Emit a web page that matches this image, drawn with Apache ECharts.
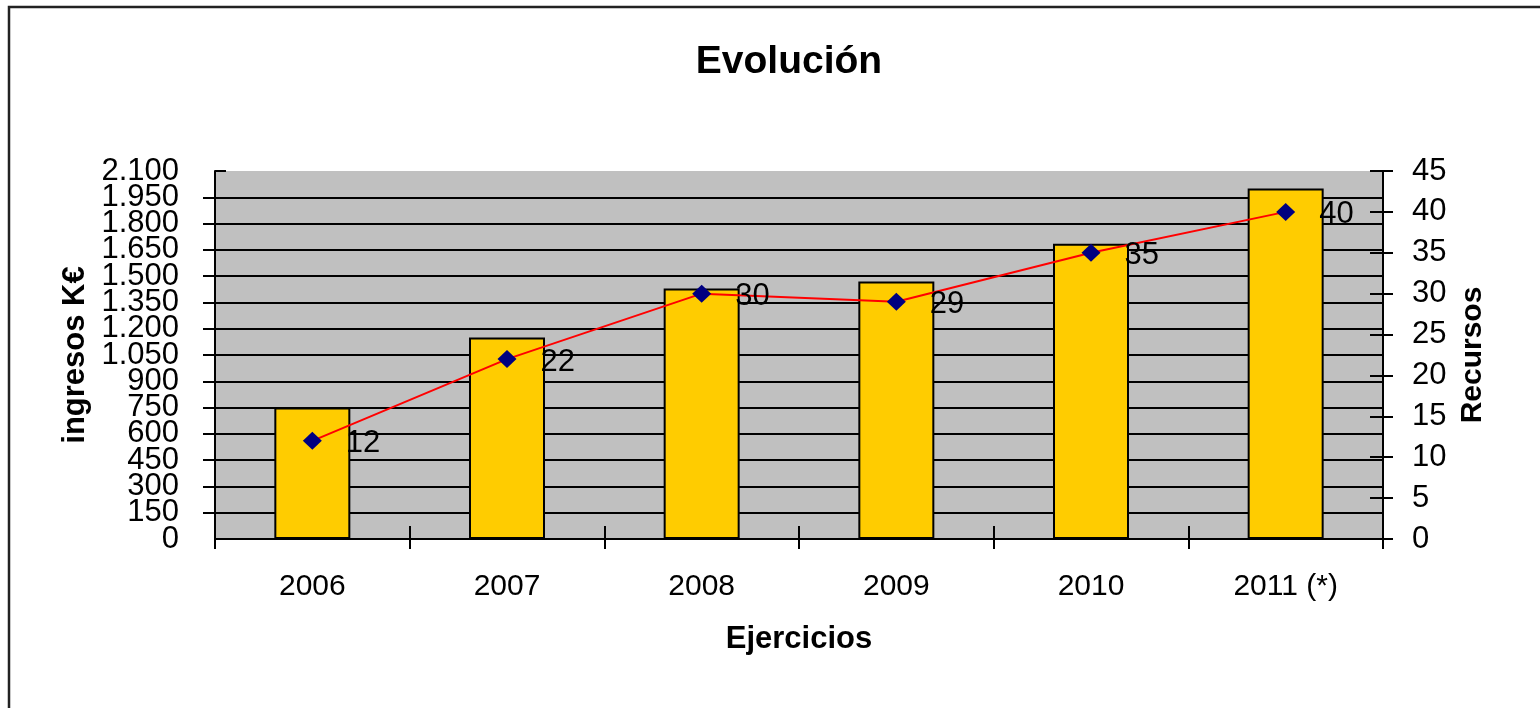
<!DOCTYPE html>
<html>
<head>
<meta charset="utf-8">
<script src="https://cdn.jsdelivr.net/npm/echarts@6/dist/echarts.min.js"></script>
<style>
html,body{margin:0;padding:0;background:#fff;}
#c{width:1540px;height:708px;}
</style>
</head>
<body>
<div id="c"></div>
<script>
const categories = ['2006', '2007', '2008', '2009', '2010', '2011 (*)'];
const ingresos = [750, 1150, 1430, 1470, 1685, 2000];
const recursos = [12, 22, 30, 29, 35, 40];
const leftTicks = {min: 0, max: 2100, interval: 150};
const rightTicks = {min: 0, max: 45, interval: 5};

const FONT = "'Liberation Sans', Arial, sans-serif";
const chart = echarts.init(document.getElementById('c'));

function fmtThousands(v) {
  return String(v).replace(/\B(?=(\d{3})+(?!\d))/g, '.');
}
function fmtEnds(v) {
  return (v === leftTicks.min || v === leftTicks.max) ? fmtThousands(v) : '';
}

const axisLineStyle = {color: '#000', width: 2};
const leftLabelStyle = {fontFamily: FONT, fontSize: 31, color: '#000', margin: 36};

chart.setOption({
  animation: false,
  backgroundColor: '#fff',
  title: {
    text: 'Evolución',
    left: 784,
    top: 38,
    textAlign: 'center',
    textStyle: {fontFamily: FONT, fontSize: 39, fontWeight: 'bold', color: '#000'}
  },
  graphic: [{
    type: 'rect',
    shape: {x: 9, y: 7, width: 1560, height: 720},
    style: {fill: 'none', stroke: '#222', lineWidth: 2.5},
    silent: true
  }],
  grid: {
    left: 215, right: 157, top: 171, bottom: 169,
    show: true, backgroundColor: '#C0C0C0', borderWidth: 0
  },
  xAxis: [{
    type: 'category',
    data: categories,
    position: 'bottom',
    name: 'Ejercicios',
    nameLocation: 'middle',
    nameGap: 85,
    nameTextStyle: {fontFamily: FONT, fontSize: 31, fontWeight: 'bold', color: '#000'},
    axisLine: {show: true, lineStyle: axisLineStyle},
    axisTick: {show: true, length: 10, lineStyle: {color: '#000', width: 2}},
    axisLabel: {fontFamily: FONT, fontSize: 30, color: '#000', margin: 33}
  }, {
    type: 'category',
    data: categories,
    position: 'bottom',
    axisLine: {show: false},
    axisTick: {show: true, inside: true, length: 13, lineStyle: {color: '#000', width: 2}},
    axisLabel: {show: false}
  }],
  yAxis: [{
    type: 'value',
    position: 'left',
    min: leftTicks.min, max: leftTicks.max, interval: leftTicks.interval,
    name: 'ingresos K€',
    nameLocation: 'middle',
    nameRotate: 90,
    nameGap: 122,
    nameTextStyle: {fontFamily: FONT, fontSize: 31, fontWeight: 'bold', color: '#000'},
    axisLine: {show: true, lineStyle: axisLineStyle},
    axisTick: {show: true, length: 12, lineStyle: {color: '#000', width: 2}},
    axisLabel: Object.assign({}, leftLabelStyle, {formatter: fmtThousands,
      showMinLabel: false, showMaxLabel: false, hideOverlap: false}),
    splitLine: {show: true, showMaxLine: false, lineStyle: {color: '#000', width: 2}}
  }, {
    type: 'value',
    position: 'right',
    min: rightTicks.min, max: rightTicks.max, interval: rightTicks.interval,
    name: 'Recursos',
    nameLocation: 'middle',
    nameRotate: 90,
    nameGap: 75,
    nameTextStyle: {fontFamily: FONT, fontSize: 30, fontWeight: 'bold', color: '#000'},
    axisLine: {show: true, lineStyle: axisLineStyle},
    axisTick: {show: true, length: 10, lineStyle: {color: '#000', width: 2}},
    axisLabel: {fontFamily: FONT, fontSize: 31, color: '#000', margin: 29,
      showMinLabel: true, showMaxLabel: true},
    splitLine: {show: false}
  }, {
    type: 'value',
    position: 'left',
    min: leftTicks.min, max: leftTicks.max, interval: leftTicks.interval,
    axisLine: {show: false},
    axisTick: {show: true, inside: true, length: 11, lineStyle: {color: '#000', width: 2}},
    axisLabel: Object.assign({}, leftLabelStyle, {formatter: fmtEnds,
      showMinLabel: true, showMaxLabel: true, hideOverlap: false}),
    splitLine: {show: false}
  }, {
    type: 'value',
    position: 'right',
    min: rightTicks.min, max: rightTicks.max, interval: rightTicks.interval,
    axisLine: {show: false},
    axisTick: {show: true, inside: true, length: 13, lineStyle: {color: '#000', width: 2}},
    axisLabel: {show: false},
    splitLine: {show: false}
  }],
  series: [{
    name: 'ingresos K€',
    type: 'bar',
    xAxisIndex: 0,
    yAxisIndex: 0,
    data: ingresos,
    barWidth: 76,
    itemStyle: {color: '#FFCC00', borderColor: '#000', borderWidth: 2}
  }, {
    name: 'Recursos',
    type: 'line',
    xAxisIndex: 0,
    yAxisIndex: 1,
    data: recursos,
    symbol: 'diamond',
    symbolSize: [19, 18],
    itemStyle: {color: '#000080'},
    lineStyle: {color: '#FF0000', width: 2},
    label: {
      show: true,
      position: 'right',
      distance: 24,
      offset: [0, 3],
      fontFamily: FONT,
      fontSize: 31,
      color: '#000'
    },
    z: 5
  }]
});
</script>
</body>
</html>
